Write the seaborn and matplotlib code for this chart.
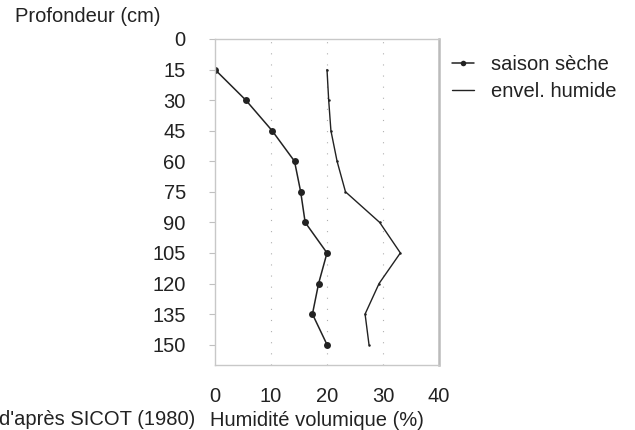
import matplotlib
matplotlib.use("Agg")
import matplotlib.pyplot as plt
import seaborn as sns
import pandas as pd
from matplotlib.lines import Line2D

profondeur = [15, 30, 45, 60, 75, 90, 105, 120, 135, 150]
saison_seche = [0, 5.5, 10.2, 14.2, 15.3, 16.1, 20.0, 18.5, 17.4, 20.0]
envel_humide = [20.0, 20.3, 20.7, 21.8, 23.3, 29.4, 33.1, 29.3, 26.8, 27.5]
y_ticks = [0, 15, 30, 45, 60, 75, 90, 105, 120, 135, 150]
x_ticks = [0, 10, 20, 30, 40]
labels = ["saison sèche", "envel. humide"]

sns.set_theme(style="white")
plt.rcParams["font.family"] = ["Liberation Sans", "DejaVu Sans"]

fig = plt.figure(figsize=(6.35, 4.30), dpi=100)
ax = fig.add_axes([215/635, 1-365/430, (439-215)/635, (365-39)/430])

df1 = pd.DataFrame({"hum": saison_seche, "prof": profondeur})
df2 = pd.DataFrame({"hum": envel_humide, "prof": profondeur})
ink = "#222222"
sns.lineplot(data=df1, x="hum", y="prof", orient="y", ax=ax, color=ink,
             lw=1.1, marker="o", markersize=5, markeredgewidth=0)
sns.lineplot(data=df2, x="hum", y="prof", orient="y", ax=ax, color=ink,
             lw=1.0, marker="o", markersize=1.8, markeredgewidth=0)

ax.set_xlim(0, 40)
ax.set_ylim(160, 0)
ax.set_xticks(x_ticks)
ax.set_yticks(y_ticks)
ax.set_xlabel("")
ax.set_ylabel("")
for v in [10, 20, 30]:
    ax.axvline(v, color="#b0b0b0", lw=0.8, ls=(0, (1, 9)), zorder=0)

for s in ax.spines.values():
    s.set_color("#c8c8c8")
    s.set_linewidth(1.0)
ax.spines["right"].set_color("#bbbbbb")
ax.spines["right"].set_linewidth(1.8)

fs = 14.5
ax.tick_params(axis="y", length=4, width=0.8, color="#c0c0c0", pad=17,
               labelsize=fs, labelcolor="#222222", left=True)
ax.tick_params(axis="x", length=0, pad=16, labelsize=fs, labelcolor="#222222")

fig.text(15/635, 1-17/430, "Profondeur (cm)", fontsize=fs, color="#222222",
         ha="left", va="center")
fig.text(210/635, 1-420/430, "Humidité volumique (%)", fontsize=fs,
         color="#222222", ha="left", va="center")
fig.text(195/635, 1-429/430, "d'après SICOT (1980)", fontsize=fs,
         color="#222222", ha="right", va="bottom")

handles = [
    Line2D([], [], color=ink, lw=1.1, marker="o", markersize=4, markeredgewidth=0),
    Line2D([], [], color=ink, lw=1.0),
]
fig.legend(handles, labels, loc="upper left", bbox_to_anchor=(452/635, 1-55/430),
           frameon=False, fontsize=fs, handlelength=1.1, handletextpad=0.85,
           labelspacing=0.4, borderpad=0, borderaxespad=0,
           labelcolor="#222222")

fig.savefig("out.png", dpi=100, facecolor="white")
